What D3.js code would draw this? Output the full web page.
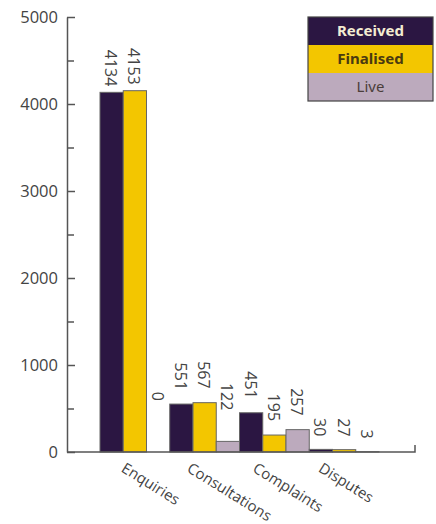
<!DOCTYPE html>
<html>
<head>
<meta charset="utf-8">
<script src="https://cdn.jsdelivr.net/npm/d3@7"></script>
<style>
  html, body { margin: 0; padding: 0; background: #fff; }
  svg { display: block; }
</style>
</head>
<body>
<svg id="chart" width="436" height="524"></svg>
<script>
// Case activity by category
const categories = ["Enquiries", "Consultations", "Complaints", "Disputes"];
const seriesNames = ["Received", "Finalised", "Live"];
const received  = [4134, 551, 451, 30];
const finalised = [4153, 567, 195, 27];
const live      = [0, 122, 257, 3];
const yTicks = [0, 1000, 2000, 3000, 4000, 5000];
const yMinorTicks = [500, 1500, 2500, 3500, 4500];

const seriesValues = [received, finalised, live];
const colors = ["#2b1642", "#f3c600", "#bcaabd"];
const legendText = ["#f4ecd2", "#4a3a10", "#4a3e3a"];

const svg = d3.select("#chart");
const axisColor = "#555";
const textColor = "#444";
const font = "Open Sans, sans-serif";

const y = d3.scaleLinear().domain([0, 5000]).range([452, 17]);
const x0 = d3.scaleBand().domain(categories).range([100, 379]).paddingInner(0).paddingOuter(0);
const x1 = d3.scaleBand().domain(seriesNames).range([0, x0.bandwidth()]).padding(0);

const rows = [];
categories.forEach((c, i) => {
  seriesNames.forEach((s, j) => rows.push({ cat: c, series: s, j, value: seriesValues[j][i] }));
});

// bars
svg.append("g").selectAll("rect").data(rows).join("rect")
  .attr("x", d => x0(d.cat) + x1(d.series))
  .attr("y", d => y(d.value))
  .attr("width", x1.bandwidth())
  .attr("height", d => y(0) - y(d.value))
  .attr("fill", d => colors[d.j])
  .attr("stroke", d => d.value > 0 ? "#666" : "none")
  .attr("stroke-width", 1);

// value labels, rotated to read downward
const nudge = { "Enquiries|Live": 38, "Consultations|Live": 17 };
svg.append("g").selectAll("text").data(rows).join("text")
  .attr("transform", d => {
    const cx = x0(d.cat) + x1(d.series) + x1.bandwidth() / 2 - 1;
    const ty = y(d.value) - 8 - (d.value < 100 ? 5 : d.value > 1000 ? -2 : 6) - (nudge[d.cat + "|" + d.series] || 0);
    return `translate(${cx},${ty}) rotate(90)`;
  })
  .attr("text-anchor", "end")
  .attr("dy", "0.35em")
  .attr("font-family", font)
  .attr("font-size", 16)
  .attr("fill", textColor)
  .text(d => d.value);

// y axis: labelled major ticks and unlabelled minor ticks
const yAxis = svg.append("g").attr("transform", "translate(67,0)")
  .call(d3.axisLeft(y).tickValues(yTicks).tickFormat(d3.format("d"))
    .tickSizeInner(-8).tickSizeOuter(0).tickPadding(9));
svg.append("g").attr("transform", "translate(67,0)")
  .call(d3.axisLeft(y).tickValues(yMinorTicks).tickSizeInner(-7).tickSizeOuter(0).tickFormat(""))
  .select(".domain").remove();
svg.selectAll(".tick line, .domain").attr("stroke", axisColor).attr("stroke-width", 1.5);
yAxis.selectAll("text")
  .attr("font-family", font)
  .attr("font-size", 16.5)
  .attr("fill", textColor);

// x axis baseline with end tick
svg.append("path")
  .attr("d", d3.line()([[67, y(0)], [415, y(0)], [415, y(0) - 7]]))
  .attr("fill", "none")
  .attr("stroke", axisColor)
  .attr("stroke-width", 1.5);

// category labels
svg.append("g").selectAll("text").data(categories).join("text")
  .attr("transform", (d, i) => `translate(${x0(d) + x0.bandwidth() / 2 - 9 - i * 4},${y(0) + 10}) rotate(32)`)
  .attr("text-anchor", "start")
  .attr("dy", "0.7em")
  .attr("font-family", font)
  .attr("font-size", 15)
  .attr("fill", textColor)
  .text(d => d);

// legend
const lg = svg.append("g").attr("transform", "translate(308,17)");
const rowH = 28, lgW = 125;
seriesNames.forEach((s, j) => {
  lg.append("rect").attr("x", 0).attr("y", j * rowH).attr("width", lgW).attr("height", rowH).attr("fill", colors[j]);
  lg.append("text")
    .attr("x", lgW / 2).attr("y", j * rowH + rowH / 2)
    .attr("dy", "0.35em")
    .attr("text-anchor", "middle")
    .attr("font-family", "Noto Sans, sans-serif")
    .attr("font-size", 15)
    .attr("font-weight", j === 2 ? "normal" : "bold")
    .attr("fill", legendText[j])
    .text(s);
});
lg.append("rect").attr("x", 0).attr("y", 0).attr("width", lgW).attr("height", rowH * 3)
  .attr("fill", "none").attr("stroke", "#444").attr("stroke-width", 1.2);
</script>
</body>
</html>
